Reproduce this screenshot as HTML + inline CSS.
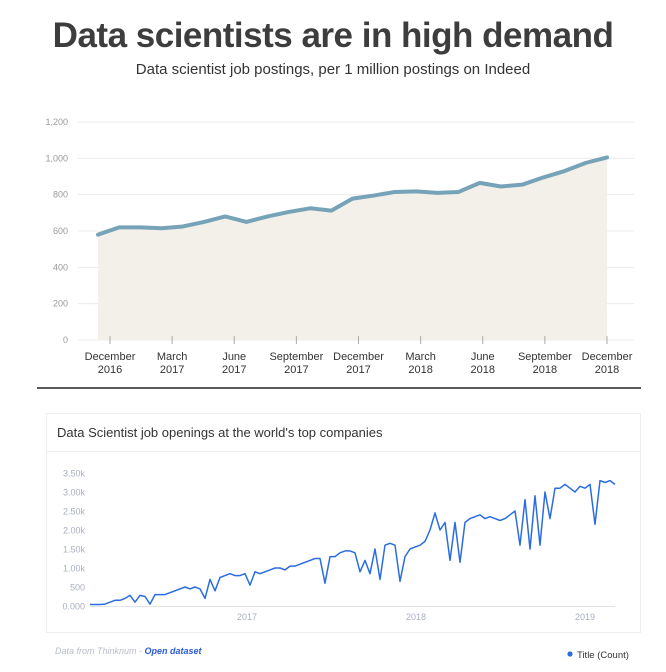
<!DOCTYPE html>
<html><head><meta charset="utf-8"><style>
body{margin:0;width:666px;height:672px;background:#fff;font-family:"Liberation Sans",sans-serif;position:relative;overflow:hidden}
.a{position:absolute}
</style></head><body>
<div class="a" style="left:0;width:666px;top:16px;text-align:center;font-size:35px;font-weight:bold;color:#3d3d3d;letter-spacing:-0.5px">Data scientists are in high demand</div>
<div class="a" style="left:0;width:666px;top:61px;text-align:center;font-size:15px;color:#333">Data scientist job postings, per 1 million postings on Indeed</div>
<svg class="a" style="left:0;top:0" width="666" height="672">
<g id="top"></g>
<line x1="37" x2="641" y1="388" y2="388" stroke="#222" stroke-width="1.5"/>
<rect x="46.5" y="413.5" width="594" height="219" fill="#fff" stroke="#eceef2"/>
<line x1="47" x2="640" y1="451.5" y2="451.5" stroke="#eceef2"/>
<text x="57" y="437" font-size="13" fill="#333">Data Scientist job openings at the world's top companies</text>
<g id="bot"></g>
<text x="55" y="654" font-size="9" fill="#b8bcc8" font-style="italic">Data from Thinknum - <tspan fill="#2a5bd7" font-weight="bold">Open dataset</tspan></text>
<circle cx="570" cy="654" r="2.6" fill="#2a6de0"/>
<text x="577" y="658" font-size="9.5" fill="#333">Title (Count)</text>
</svg>
<script>
const topLabels=[["December","2016"],["March","2017"],["June","2017"],["September","2017"],["December","2017"],["March","2018"],["June","2018"],["September","2018"],["December","2018"]];
const topTicks=[0,200,400,600,800,1000,1200];
const topValues=[580,620,620,615,625,650,680,650,680,705,725,712,778,795,815,818,810,815,865,845,855,895,930,975,1005];
const botTicks=[0,500,1000,1500,2000,2500,3000,3500];
const botTickLabels=["0.000","500","1.00k","1.50k","2.00k","2.50k","3.00k","3.50k"];
const botYears=[2017,2018,2019];
const botValues=[0.04,0.04,0.04,0.05,0.1,0.15,0.15,0.2,0.28,0.1,0.28,0.25,0.05,0.3,0.3,0.3,0.35,0.4,0.45,0.5,0.45,0.5,0.45,0.2,0.7,0.4,0.75,0.8,0.85,0.8,0.8,0.85,0.55,0.9,0.85,0.9,0.95,1.0,1.0,0.95,1.05,1.05,1.1,1.15,1.2,1.25,1.25,0.6,1.3,1.3,1.4,1.45,1.45,1.4,0.9,1.2,0.85,1.5,0.7,1.6,1.65,1.6,0.65,1.3,1.5,1.55,1.6,1.7,2.0,2.45,2.0,2.2,1.2,2.2,1.15,2.2,2.3,2.35,2.4,2.3,2.35,2.3,2.25,2.3,2.4,2.5,1.6,2.8,1.5,2.9,1.6,3.0,2.3,3.1,3.1,3.2,3.1,3.0,3.15,3.1,3.2,2.15,3.3,3.25,3.3,3.2];
const NS="http://www.w3.org/2000/svg";
function mk(p,t,a){const e=document.createElementNS(NS,t);for(const k in a)e.setAttribute(k,a[k]);p.appendChild(e);return e;}
// top chart
const T=document.getElementById('top');
const ty=v=>340-v*(218/1200);
const tx=i=>98+i*(509/(topValues.length-1));
const tickX=k=>110+k*(497/(topLabels.length-1));
topTicks.forEach(v=>{
 const l=mk(T,'line',{x1:78,x2:634,y1:ty(v),y2:ty(v),stroke:'#ececec'});
 
 
 const t=mk(T,'text',{x:68,y:ty(v)+3,'font-size':9,fill:'#999','text-anchor':'end'});t.textContent=v.toLocaleString('en-US');
 
 
});
let pts=topValues.map((v,i)=>tx(i)+','+ty(v));
const ar=mk(T,'polygon',{points:tx(0)+','+ty(0)+' '+pts.join(' ')+' '+tx(topValues.length-1)+','+ty(0),fill:'#f3f0e9'});


const ln=mk(T,'polyline',{points:pts.join(' '),fill:'none',stroke:'#76a3b8','stroke-width':4,'stroke-linejoin':'round','stroke-linecap':'round'});


topLabels.forEach((l,i)=>{
 const x=tickX(i);
 const tk=mk(T,'line',{x1:x,x2:x,y1:336,y2:344,stroke:'#aaa'});
 
 
 const t=mk(T,'text',{x:x,y:360,'font-size':11,fill:'#333','text-anchor':'middle'});
 
 
 mk(t,'tspan',{x:x}).textContent=l[0];mk(t,'tspan',{x:x,dy:13}).textContent=l[1];
});
// bottom chart
const B=document.getElementById('bot');
const by=v=>606-v*(133/3500);
const bx=i=>90+i*(525/(botValues.length-1));
const yr=y=>247+(y-2017)*169;
mk(B,'line',{x1:90,x2:615,y1:606.5,y2:606.5,stroke:'#dfe3ea'});
botTicks.forEach((v,i)=>{
 const t=mk(B,'text',{x:85,y:by(v)+3.5,'font-size':9,fill:'#a9afc2','text-anchor':'end'});t.textContent=botTickLabels[i];
 
 
});
botYears.forEach(y=>{
 const t=mk(B,'text',{x:yr(y),y:620,'font-size':9,fill:'#a9afc2','text-anchor':'middle'});t.textContent=y;
 
 
});
const bl=mk(B,'polyline',{points:botValues.map((v,i)=>bx(i)+','+by(v*1000)).join(' '),fill:'none',stroke:'#2a6de0','stroke-width':1.5,'stroke-linejoin':'round'});


</script>
</body></html>
